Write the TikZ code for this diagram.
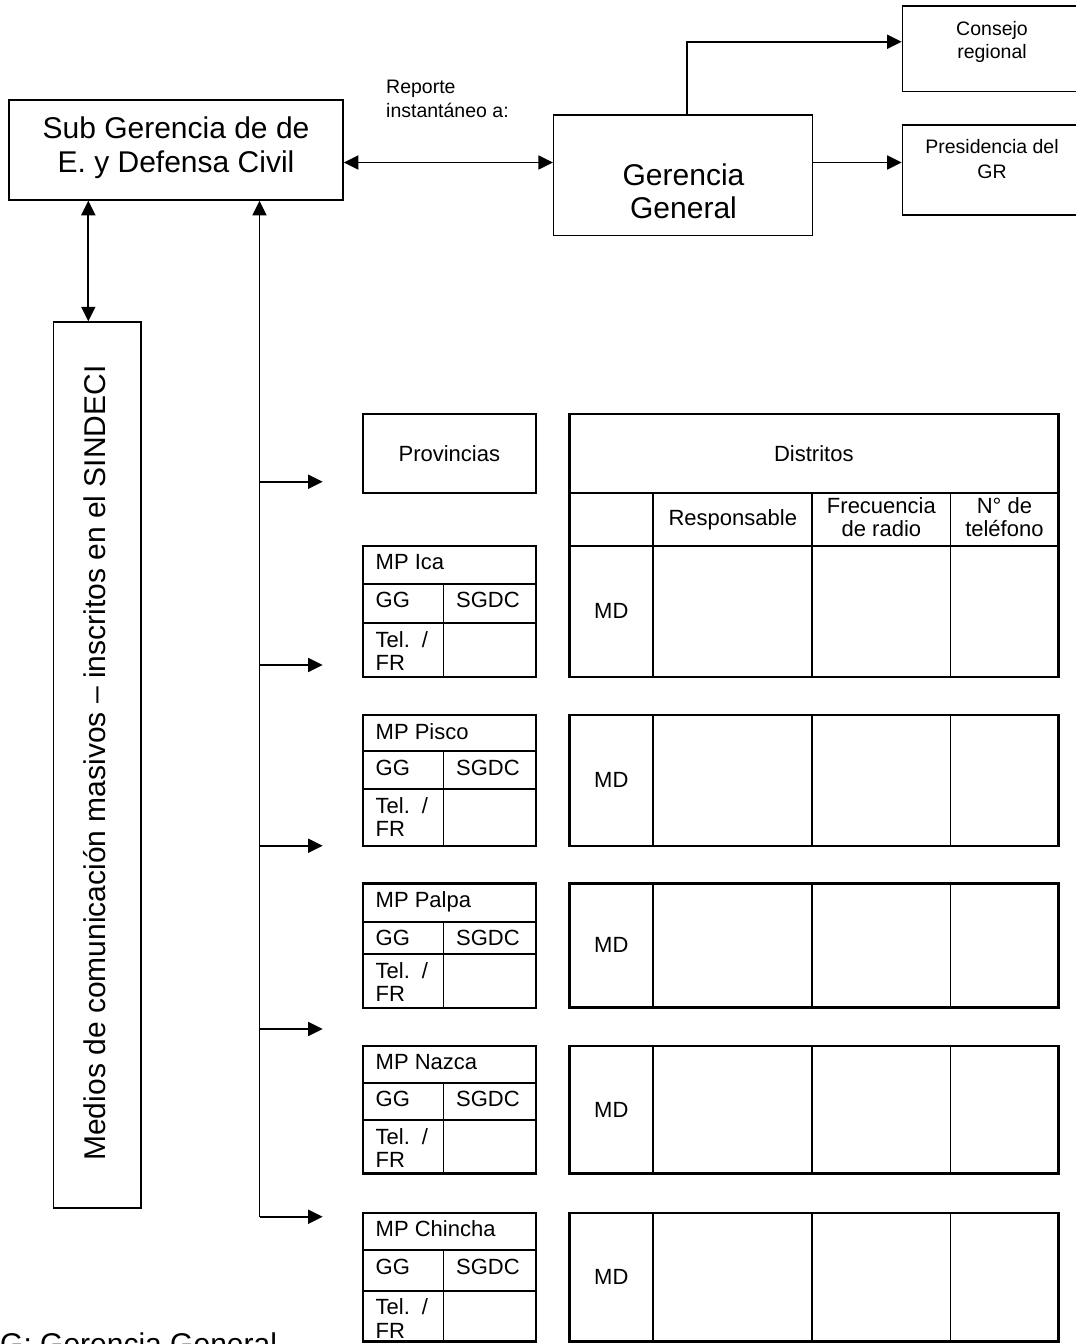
\documentclass[tikz,border=0pt]{standalone}
\usepackage{fontspec}
\setmainfont{Liberation Sans}
\usetikzlibrary{arrows.meta,fit}
\tikzset{
  box/.style={draw, line width=1.5pt, inner sep=0pt},
  conn/.style={line width=1.7pt},
  tip/.style={-{Triangle[length=14.5pt,width=14pt]}},
  twotip/.style={{Triangle[length=14.5pt,width=14pt]}-{Triangle[length=14.5pt,width=14pt]}},
  big/.style={font=\fontsize{30}{34}\selectfont, inner sep=0pt},
  mid/.style={font=\fontsize{22}{23}\selectfont, inner sep=0pt},
  small/.style={font=\fontsize{19.5}{24}\selectfont, inner sep=0pt},
  outer/.style={draw, line width=2.4pt, inner sep=0pt},
  rowline/.style={line width=2pt},
  colline/.style={line width=1.5pt},
  thincol/.style={line width=1.1pt},
}
\begin{document}
\begin{tikzpicture}[x=1pt,y=-1pt]
\useasboundingbox (0,0) rectangle (1076,1344);
\clip (0,0) rectangle (1076,1344);

% ---- upper management boxes ----
\node[box, fit={(9,100) (343,200)}] (sub) {};
\node[big, align=center] (subtxt) at (176,148) {Sub Gerencia de de\\E. y Defensa Civil};

\node[box, fit={(553.7,115) (812.5,235.7)}] (gg) {};
\node[big, align=center, font=\fontsize{30}{33}\selectfont] (ggtxt) at (683.5,191.5) {Gerencia\\General};

\node[box, fit={(902.4,6) (1090,91.7)}] (cons) {};
\node[small, align=center, font=\fontsize{19.5}{23}\selectfont] (constxt) at (992,42.3) {Consejo\\regional};

\node[box, fit={(902.4,125) (1090,215)}] (pres) {};
\node[small, align=center, font=\fontsize{19.5}{25}\selectfont] (prestxt) at (992,159) {Presidencia del\\GR};

\node[small, align=left, anchor=west] (rep) at (386,99) {Reporte\\instantáneo a:};

% ---- mass media box ----
\node[box, line width=1.4pt, fit={(53.3,322) (141,1208)}] (med) {};
\node[big, rotate=90] (medtxt) at (94.6,763) {Medios de comunicación masivos – inscritos en el SINDECI};

% ---- connectors at the top ----
\coordinate (hy) at (0,162.5);
\coordinate (up) at (687,41.7);
\coordinate (lk) at (88.3,0);
\draw[conn,twotip] (sub.east |- hy) -- (gg.west |- hy);
\draw[conn,tip] (gg.north -| up) |- (cons.west |- up);
\draw[conn,tip] (gg.east |- hy) -- (pres.west |- hy);
\draw[conn,twotip] (sub.south -| lk) -- (med.north -| lk);

% ---- distribution bus ----
\coordinate (bus) at (259.5,1216.7);
\draw[conn,tip] (bus) -- (bus |- sub.south);
\foreach \yy [count=\i] in {481.7,665,845.7,1029,1216.7} {
  \coordinate (b\i) at (259.5,\yy);
  \coordinate (e\i) at (322.7,\yy);
  \draw[conn,tip] (b\i) -- (e\i);
}

% ---- header boxes ----
\node[outer, fit={(362.7,414) (536,492.7)}] (prov) {};
\node[mid] (provtxt) at (prov.center) {Provincias};

\node[outer, fit={(569.3,414) (1058.3,676.7)}] (dIca) {};
\draw[rowline] (569.3,492.7) -- (1058.3,492.7);
\draw[rowline] (569.3,545.5) -- (1058.3,545.5);
\draw[rowline] (653.3,492.7) -- (653.3,676.7);
\draw[rowline] (812.3,492.7) -- (812.3,676.7);
\draw[thincol] (950.5,492.7) -- (950.5,676.7);
\node[mid] (distxt) at (813.8,454) {Distritos};
\node[mid] (resp) at (732.8,520) {Responsable};
\node[mid, align=center] (frec) at (881.4,517.5) {Frecuencia\\de radio};
\node[mid, align=center] (ntel) at (1004.4,517.5) {N° de\\teléfono};
\node[mid] (mdIca) at (611.3,611.1) {MD};

% ---- district tables of the other provinces ----
\foreach \nm/\tp/\bt in {Pisco/715/845.7, Palpa/883.3/1007.5, Nazca/1045.7/1173.3, Chincha/1212.7/1341.5} {
  \node[outer, fit={(569.3,\tp) (1058.3,\bt)}] (d\nm) {};
  \draw[rowline] (653.3,\tp) -- (653.3,\bt);
  \draw[rowline] (812.3,\tp) -- (812.3,\bt);
  \draw[thincol] (950.5,\tp) -- (950.5,\bt);
  \node[mid] (md\nm) at (611.3,{(\tp+\bt)/2}) {MD};
}

% ---- provincial municipality boxes ----
\foreach \nm/\tp/\ra/\rb/\bt in {Ica/545.7/583.7/623/676.7, Pisco/715/751/789/845.7, Palpa/883.3/921.7/954.3/1007.7, Nazca/1045.7/1082.7/1120/1173.3, Chincha/1212.7/1250/1290.7/1341.5} {
  \node[outer, fit={(362.7,\tp) (536,\bt)}] (mp\nm) {};
  \draw[rowline] (362.7,\ra) -- (536,\ra);
  \draw[rowline] (362.7,\rb) -- (536,\rb);
  \draw[colline] (443.3,\ra) -- (443.3,\bt);
  \node[mid, anchor=base west] (t\nm) at (375.5,\tp+24) {MP \nm};
  \node[mid, anchor=base west] (gg\nm) at (375.5,\ra+24) {GG};
  \node[mid, anchor=base west] (sg\nm) at (456,\ra+24) {SGDC};
  \node[mid, anchor=base west] (tel\nm) at (375.5,\rb+24) {Tel. \,/};
  \node[mid, anchor=base west] (fr\nm) at (375.5,\rb+47.5) {FR};
}

% ---- legend ----
\node[big, anchor=base west] (note) at (0,1354.5) {G: Gerencia General};
\end{tikzpicture}
\end{document}
